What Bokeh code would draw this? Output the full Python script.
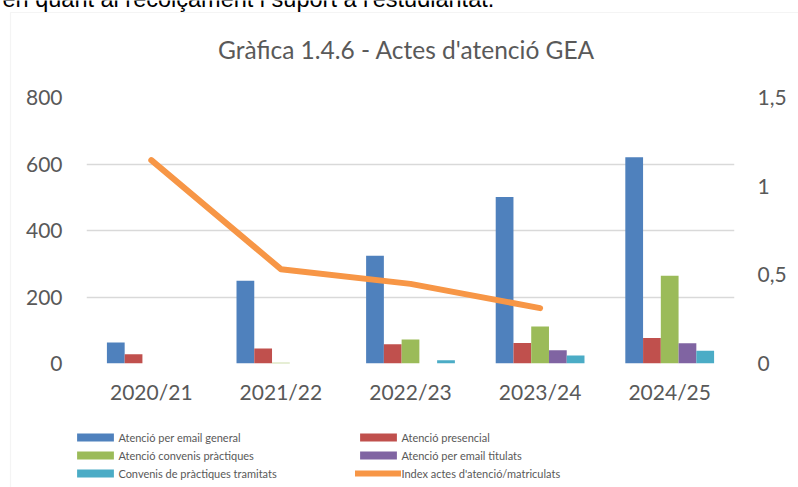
from bokeh.plotting import figure
from bokeh.models import (FactorRange, Range1d, LinearAxis, Label, Legend, LegendItem,
                          BoxAnnotation, ColumnDataSource, FixedTicker)
from bokeh.transform import dodge
from bokeh.embed import file_html
from bokeh.resources import INLINE

NAN = float("nan")

# ---------------- data ----------------
years = ["2020/21", "2021/22", "2022/23", "2023/24", "2024/25"]
email_general = [63, 249, 324, 501, 620]
presencial = [28, 45, 58, 62, 77]
convenis_practiques = [0, 2, 72, 111, 264]
email_titulats = [0, 0, 0, 40, 61]
convenis_tramitats = [0, 0, 10, 24, 38]
index_actes = [1.147, 0.532, 0.449, 0.312, NAN]

series_labels = ["Atenció per email general", "Atenció presencial",
                 "Atenció convenis pràctiques", "Atenció per email titulats",
                 "Convenis de pràctiques tramitats"]
line_label = "Index actes d'atenció/matriculats"
title_text = "Gràfica 1.4.6 - Actes d'atenció GEA"
top_text = "en quant al recolçament i suport a l'estudiantat."
left_ticks = [0, 200, 400, 600, 800]
right_ticks = [0, 0.5, 1, 1.5]
right_tick_labels = {0: "0", 0.5: "0,5", 1: "1", 1.5: "1,5"}

# ---------------- style ----------------
colors = ["#4F81BD", "#C0504D", "#9BBB59", "#8064A2", "#4BACC6"]
line_color = "#F79646"
grey = "#595959"
grid = "#D9D9D9"
FONT = "Lato"
W, H = 798, 487
ABS = {"position": "absolute", "left": "0px", "top": "0px"}

src = ColumnDataSource(dict(years=years, s0=email_general, s1=presencial,
                            s2=convenis_practiques, s3=email_titulats,
                            s4=convenis_tramitats, idx=index_actes))

# ---------------- main chart ----------------
p = figure(width=W, height=H, x_range=FactorRange(*years, range_padding=0),
           y_range=Range1d(0, 800), output_backend="svg", toolbar_location=None,
           min_border_left=86, min_border_right=64, min_border_top=97,
           min_border_bottom=124)
p.styles = dict(ABS)
p.outline_line_color = None
p.background_fill_color = "white"
p.border_fill_color = "white"
p.extra_y_ranges = {"idx": Range1d(0, 1.5)}

bw = 0.137
offsets = [-2 * bw, -bw, 0, bw, 2 * bw]
for i, off in enumerate(offsets):
    p.vbar(x=dodge("years", off, range=p.x_range), top="s%d" % i, width=bw,
           source=src, fill_color=colors[i], line_color=None)

p.line(x="years", y="idx", source=src, y_range_name="idx", line_width=6,
       line_color=line_color, line_cap="round", line_join="round")

def style_axis(ax, standoff):
    ax.axis_line_color = None
    ax.major_tick_line_color = None
    ax.minor_tick_line_color = None
    ax.major_tick_out = 0
    ax.major_tick_in = 0
    ax.minor_tick_out = 0
    ax.minor_tick_in = 0
    ax.major_label_text_font = FONT
    ax.major_label_text_font_size = "21px"
    ax.major_label_text_color = grey
    ax.major_label_standoff = standoff

style_axis(p.xaxis[0], 15)
p.xgrid.visible = False

p.yaxis.ticker = FixedTicker(ticks=left_ticks)
style_axis(p.yaxis[0], 24)
p.ygrid.ticker = FixedTicker(ticks=left_ticks)
p.ygrid.grid_line_color = grid
p.ygrid.grid_line_width = 1.5

ax2 = LinearAxis(y_range_name="idx", ticker=FixedTicker(ticks=right_ticks),
                 major_label_overrides=right_tick_labels)
style_axis(ax2, 23)
p.add_layout(ax2, "right")

# ---------------- overlay: titles, border, legend ----------------
o = figure(width=W, height=H, x_range=Range1d(0, W), y_range=Range1d(0, H),
           output_backend="svg", toolbar_location=None, min_border=0,
           min_border_left=0, min_border_right=0, min_border_top=0,
           min_border_bottom=0, x_axis_location=None, y_axis_location=None)
o.styles = dict(ABS)
o.grid.visible = False
o.outline_line_color = None
o.background_fill_alpha = 0
o.border_fill_alpha = 0

o.add_layout(Label(x=406, y=H - 49, x_units="screen", y_units="screen", text=title_text,
                   text_align="center", text_baseline="middle", text_font=FONT,
                   text_font_size="24.5px", text_color=grey))
o.add_layout(Label(x=2, y=H + 2, x_units="screen", y_units="screen", text=top_text,
                   text_align="left", text_baseline="alphabetic",
                   text_font="Liberation Sans", text_font_size="23.5px",
                   text_color="black"))
o.add_layout(BoxAnnotation(left=10, right=W + 50, top=H - 12, bottom=-50,
                           left_units="screen", right_units="screen",
                           top_units="screen", bottom_units="screen",
                           fill_alpha=0, line_color=grid, line_width=1.2))

# legend key renderers (one missing value each: they only carry the series styles)
keys = [o.vbar(x=[NAN], top=[NAN], width=1, fill_color=c, line_color=None)
        for c in colors]
key_line = o.line(x=[NAN], y=[NAN], line_width=6, line_color=line_color,
                  line_cap="round")

def mk_legend(items, x):
    lg = Legend(items=items, location=(x, 5), orientation="vertical")
    lg.padding = 0
    lg.spacing = 0
    lg.margin = 0
    lg.label_height = 18
    lg.glyph_height = 10
    lg.glyph_width = 46
    lg.label_standoff = 0
    lg.border_line_color = None
    lg.background_fill_alpha = 0
    lg.label_text_font = FONT
    lg.label_text_font_size = "11px"
    lg.label_text_color = grey
    return lg

leg1 = mk_legend([LegendItem(label=series_labels[0], renderers=[keys[0]]),
                  LegendItem(label=series_labels[2], renderers=[keys[2]]),
                  LegendItem(label=series_labels[4], renderers=[keys[4]])], 72.4)
leg2 = mk_legend([LegendItem(label=series_labels[1], renderers=[keys[1]]),
                  LegendItem(label=series_labels[3], renderers=[keys[3]]),
                  LegendItem(label=line_label, renderers=[key_line])], 355.4)
o.add_layout(leg1)
o.add_layout(leg2)

open("out.html", "w").write(file_html([p, o], INLINE))
